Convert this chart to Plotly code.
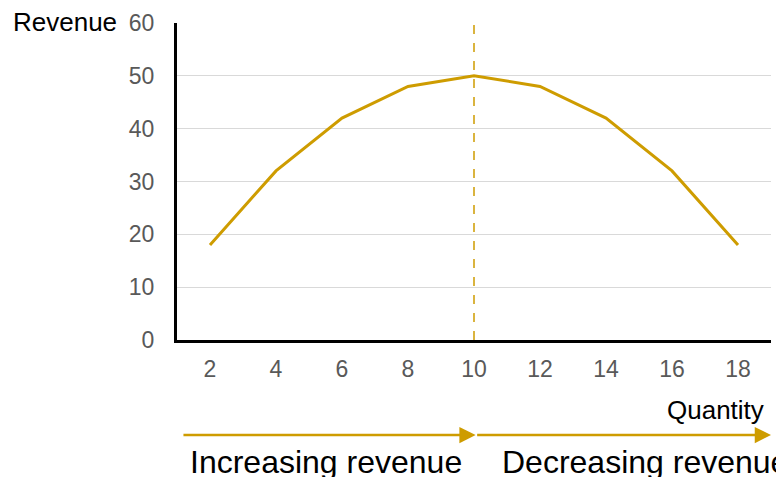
import plotly.graph_objects as go

quantity = [2, 4, 6, 8, 10, 12, 14, 16, 18]
revenue = [18, 32, 42, 48, 50, 48, 42, 32, 18]
y_ticks = [0, 10, 20, 30, 40, 50, 60]
peak_q = 10

gold = "#CE9C00"
font = "Liberation Sans, Arial, sans-serif"

fig = go.Figure()
fig.add_trace(go.Scatter(
    x=quantity, y=revenue, mode="lines",
    line=dict(color=gold, width=3), hoverinfo="skip", showlegend=False,
))

# dashed marker at the revenue peak
fig.add_shape(type="line", xref="x", yref="paper", x0=peak_q, x1=peak_q, y0=0, y1=1.01,
              line=dict(color=gold, width=1.5, dash="dash"))

annotations = [
    dict(text="Revenue", xref="paper", yref="paper", x=-0.097, y=1.003,
         xanchor="right", yanchor="middle", showarrow=False,
         font=dict(family=font, size=26, color="black")),
    dict(text="Quantity", xref="paper", yref="paper", x=0.992, y=-0.22,
         xanchor="right", yanchor="middle", showarrow=False,
         font=dict(family=font, size=26, color="black")),
    # direction arrows under the axis
    dict(text="", xref="x", yref="paper", x=10.05, y=-0.30, axref="x", ayref="pixel",
         ax=1.15, ay=0, showarrow=True, arrowhead=2, arrowsize=1.3, arrowwidth=2.5,
         arrowcolor=gold),
    dict(text="", xref="x", yref="paper", x=19.0, y=-0.30, axref="x", ayref="pixel",
         ax=10.05, ay=0, showarrow=True, arrowhead=2, arrowsize=1.3, arrowwidth=2.5,
         arrowcolor=gold),
    dict(text="Increasing revenue", xref="x", yref="paper", x=5.5, y=-0.385,
         xanchor="center", yanchor="middle", showarrow=False,
         font=dict(family=font, size=32, color="black")),
    dict(text="Decreasing revenue", xref="x", yref="paper", x=10.8, y=-0.385,
         xanchor="left", yanchor="middle", showarrow=False,
         font=dict(family=font, size=32, color="black")),
]

fig.update_layout(
    width=776, height=477,
    margin=dict(l=177, r=5, t=23, b=137),
    paper_bgcolor="white", plot_bgcolor="white",
    annotations=annotations,
    xaxis=dict(range=[1, 19], tickvals=quantity, showgrid=False, zeroline=False,
               showline=True, linecolor="black", linewidth=3,
               ticks="", ticklabelstandoff=6,
               tickfont=dict(family=font, size=23, color="#595959")),
    yaxis=dict(range=[0, 60], tickvals=y_ticks, showgrid=True, gridcolor="#D9D9D9",
               gridwidth=1.2, zeroline=False, showline=True, linecolor="black",
               linewidth=3, ticks="", ticklabelstandoff=15,
               tickfont=dict(family=font, size=23, color="#595959")),
)

fig.write_html("out.html")
